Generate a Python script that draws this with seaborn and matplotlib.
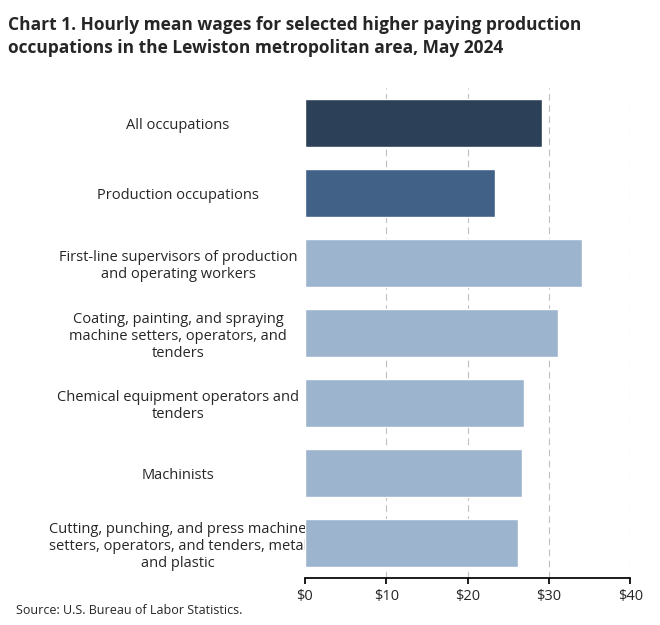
import matplotlib
matplotlib.use("Agg")
import matplotlib.pyplot as plt
import pandas as pd
import seaborn as sns

occupations = [
    "All occupations",
    "Production occupations",
    "First-line supervisors of production\nand operating workers",
    "Coating, painting, and spraying\nmachine setters, operators, and\ntenders",
    "Chemical equipment operators and\ntenders",
    "Machinists",
    "Cutting, punching, and press machine\nsetters, operators, and tenders, metal\nand plastic",
]
wages = [29.17, 23.40, 34.10, 31.10, 26.95, 26.70, 26.20]
bar_colors = ["#243f60", "#366092", "#95b3d7", "#95b3d7", "#95b3d7", "#95b3d7", "#95b3d7"]
tick_values = [0, 10, 20, 30, 40]
tick_labels = ["$0", "$10", "$20", "$30", "$40"]

plt.rcParams["font.family"] = "Open Sans"
sns.set_theme(style="white", font="Open Sans")

df = pd.DataFrame({"occupation": occupations, "wage": wages})

fig = plt.figure(figsize=(6.6, 6.25), dpi=100)
ax = fig.add_axes([0.462, 0.075, 0.493, 0.784])
sns.barplot(data=df, y="occupation", x="wage", hue="occupation",
            palette=bar_colors, legend=False, width=0.68, ax=ax)

ax.set_xlim(0, 40)
ax.set_xticks(tick_values)
ax.set_xticklabels(tick_labels, fontsize=10.5)
ax.tick_params(axis="y", labelsize=10.5, length=0, pad=14)
ax.tick_params(axis="x", length=4, color="#000000", bottom=True)
for lab in ax.get_yticklabels():
    lab.set_horizontalalignment("center")
    lab.set_x(-0.33)
ax.set_xlabel("")
ax.set_ylabel("")
for x in tick_values[1:]:
    ax.axvline(x, color="#bfbfbf", linestyle=(0, (6, 4)), linewidth=0.8, zorder=0)
for side in ["top", "right", "left"]:
    ax.spines[side].set_visible(False)
ax.spines["bottom"].set_color("#000000")

fig.text(0.012, 0.975, "Chart 1. Hourly mean wages for selected higher paying production\n"
         "occupations in the Lewiston metropolitan area, May 2024",
         fontsize=12.5, fontweight="bold", va="top", ha="left", linespacing=1.35)
fig.text(0.025, 0.012, "Source: U.S. Bureau of Labor Statistics.", fontsize=9, ha="left", va="bottom")

fig.savefig("out.png", dpi=100)
